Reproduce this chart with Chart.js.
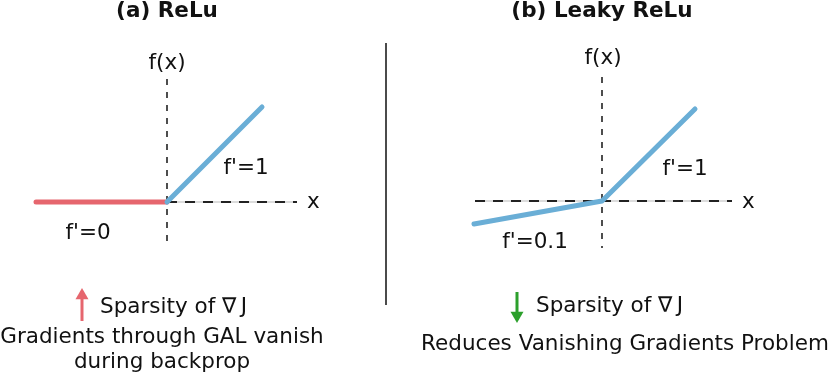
<!DOCTYPE html>
<html>
<head>
<meta charset="utf-8">
<script src="https://cdn.jsdelivr.net/npm/chart.js@4/dist/chart.umd.min.js"></script>
<style>
  html, body { margin: 0; padding: 0; background: #fff; }
  .wrap { position: relative; width: 830px; height: 372px; }
  .panel { position: absolute; top: 0; width: 415px; height: 372px; }
</style>
</head>
<body>
<div class="wrap">
  <div class="panel" style="left:0"><canvas id="relu" width="415" height="372"></canvas></div>
  <div class="panel" style="left:415px"><canvas id="leaky" width="415" height="372"></canvas></div>
</div>
<script>
// --- data (x in function units) ---
const reluNegX = [-1.31, 0];
const reluNegY = [0, 0];
const reluPosX = [0, 0.95];
const reluPosY = [0, 0.95];
const leakyX = [-1.28, 0, 0.93];
const leakyY = [-0.23, 0, 0.92];

const panelTitles = ['(a) ReLu', '(b) Leaky ReLu'];
const slopeLabelsRelu = ["f'=0", "f'=1"];
const slopeLabelsLeaky = ["f'=0.1", "f'=1"];
const sparsityText = 'Sparsity of \u2207\u2009J';
const reluNote = ['Gradients through GAL vanish', 'during backprop'];
const leakyNote = ['Reduces Vanishing Gradients Problem'];

const RED = '#e6666e';
const BLUE = '#6aaed6';
const GREEN = '#2ca02c';
const FONT = '"DejaVu Sans", "Liberation Sans", sans-serif';

const pts = (xs, ys) => xs.map((x, i) => ({ x: x, y: ys[i] }));

function curve(data, color) {
  return {
    data: data, borderColor: color, borderWidth: 5,
    borderCapStyle: 'round', borderJoinStyle: 'round',
    pointRadius: 0, tension: 0
  };
}
function dashed(data, dash, width) {
  return { data: data, borderColor: '#222', borderWidth: width, borderDash: dash, pointRadius: 0 };
}
function plain(data, color, width) {
  return { data: data, borderColor: color, borderWidth: width, pointRadius: 0 };
}
function arrow(x, y0, y1, color, up) {
  // shaft plus a triangle head centred just short of the tip
  const r = 7.5, headY = up ? y1 - r / 100 : y1 + r / 100;
  return {
    data: [{ x: x, y: y0 }, { x: x, y: headY }],
    borderColor: color, backgroundColor: color, borderWidth: 3,
    pointStyle: 'triangle', pointRotation: up ? 0 : 180,
    pointRadius: [0, r], pointBorderWidth: 0, pointHoverRadius: 0
  };
}

// text drawn in data coordinates through the scales
const textPlugin = {
  id: 'texts',
  afterDatasetsDraw(chart) {
    const { ctx, scales } = chart;
    const items = chart.options.plugins.texts.items;
    ctx.save();
    ctx.fillStyle = '#111';
    ctx.textBaseline = 'alphabetic';
    items.forEach(t => {
      ctx.font = (t.bold ? 'bold ' : '') + '21.5px ' + FONT;
      ctx.textAlign = t.align || 'center';
      ctx.fillText(t.text, scales.x.getPixelForValue(t.x), scales.y.getPixelForValue(t.y));
    });
    ctx.restore();
  }
};

function makeChart(id, datasets, xr, yr, items) {
  return new Chart(document.getElementById(id), {
    type: 'line',
    data: { datasets: datasets },
    plugins: [textPlugin],
    options: {
      responsive: false,
      animation: false,
      layout: { padding: 0, autoPadding: false },
      parsing: false,
      scales: {
        x: { type: 'linear', min: xr[0], max: xr[1], display: false },
        y: { type: 'linear', min: yr[0], max: yr[1], display: false }
      },
      plugins: {
        legend: { display: false },
        tooltip: { enabled: false },
        texts: { items: items }
      },
      events: []
    }
  });
}

// (a) ReLu
makeChart('relu', [
  curve(pts(reluPosX, reluPosY), BLUE),
  curve(pts(reluNegX, reluNegY), RED),
  arrow(-0.85, -1.19, -0.86, RED, true),
  dashed([{ x: 0, y: 1.23 }, { x: 0, y: -0.41 }], [6, 7], 1.6),
  dashed([{ x: 0, y: 0 }, { x: 1.30, y: 0 }], [10, 8], 2),
  plain([{ x: 0, y: 0 }, { x: 1.30, y: 0 }], '#dcdcdc', 2),
  plain([{ x: 2.19, y: 1.59 }, { x: 2.19, y: -1.03 }], '#111', 1.5)
], [-1.67, 2.48], [-1.70, 2.02], [
  { text: panelTitles[0], x: 0, y: 1.85, bold: true },
  { text: 'f(x)', x: 0, y: 1.33 },
  { text: 'x', x: 1.40, y: -0.06, align: 'left' },
  { text: slopeLabelsRelu[1], x: 0.79, y: 0.28 },
  { text: slopeLabelsRelu[0], x: -0.79, y: -0.37 },
  { text: sparsityText, x: -0.67, y: -1.11, align: 'left' },
  { text: reluNote[0], x: -0.05, y: -1.41 },
  { text: reluNote[1], x: -0.05, y: -1.66 }
]);

// (b) Leaky ReLu
makeChart('leaky', [
  curve(pts(leakyX, leakyY), BLUE),
  arrow(-0.85, -0.91, -1.22, GREEN, false),
  dashed([{ x: 0, y: 1.24 }, { x: 0, y: -0.47 }], [6, 7], 1.6),
  dashed([{ x: -1.27, y: 0 }, { x: 1.30, y: 0 }], [10, 8], 2),
  plain([{ x: -1.27, y: 0 }, { x: 1.30, y: 0 }], '#dcdcdc', 2)
], [-1.87, 2.28], [-1.71, 2.01], [
  { text: panelTitles[1], x: 0, y: 1.84, bold: true },
  { text: 'f(x)', x: 0.01, y: 1.37 },
  { text: 'x', x: 1.40, y: -0.07, align: 'left' },
  { text: slopeLabelsLeaky[1], x: 0.83, y: 0.26 },
  { text: slopeLabelsLeaky[0], x: -0.67, y: -0.47 },
  { text: sparsityText, x: -0.66, y: -1.11, align: 'left' },
  { text: leakyNote[0], x: 0.23, y: -1.49 }
]);
</script>
</body>
</html>
